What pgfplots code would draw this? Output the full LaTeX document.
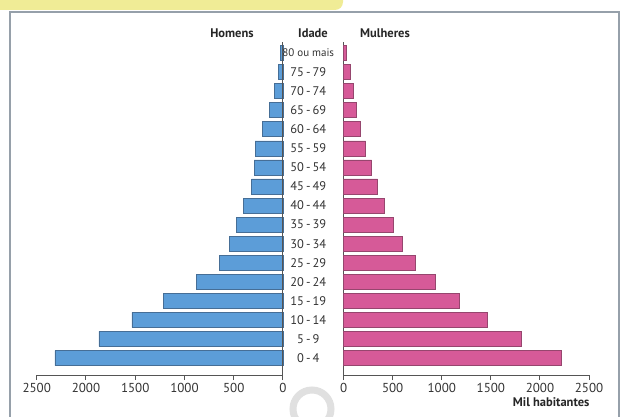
\documentclass[border=0pt]{standalone}
\usepackage{fontspec}
\setmainfont{PT Sans}
\usepackage{pgfplots}
\pgfplotsset{compat=1.18}
\definecolor{mblue}{RGB}{92,157,216}
\definecolor{mblueE}{RGB}{70,110,150}
\definecolor{fpink}{RGB}{214,90,152}
\definecolor{fpinkE}{RGB}{150,70,110}
\definecolor{axgray}{RGB}{85,85,85}
\definecolor{framegray}{RGB}{150,160,170}
\definecolor{banner}{RGB}{240,236,150}
\pgfplotsset{
  pyr/.style={scale only axis, height=333.6pt, xmin=0, xmax=2500, ymin=-0.9, ymax=16.6,
    xbar, bar width=15pt, axis x line*=bottom, xtick={0,500,...,2500},
    tick align=outside, major tick length=5pt,
    x axis line style={axgray, line width=1pt}, xtick style={axgray, line width=1pt},
    xticklabel style={font=\fontsize{13}{13}\selectfont, text=black!80},
    /pgf/number format/assume math mode=true, /pgf/number format/1000 sep={},
    clip=false}
}
\begin{document}
\begin{tikzpicture}
\path[use as bounding box] (0pt,0pt) rectangle (625pt,417pt);
\fill[white] (0pt,0pt) rectangle (625pt,417pt);
\draw[black!12, line width=7pt] (312pt,8pt) circle[radius=19pt];
\fill[banner, rounded corners=8pt] (-20pt,407pt) rectangle (343pt,440pt);
\draw[framegray, line width=1.2pt] (10pt,-5pt) -- (10pt,405pt) -- (619pt,405pt) -- (619pt,-5pt);
\begin{axis}[pyr, at={(36.7pt,41.8pt)}, anchor=south west, width=246.3pt, x dir=reverse,
  axis y line=none, ytick=\empty]
\addplot[fill=mblue, draw=mblueE, line width=0.6pt] coordinates {
(2315,0) (1868,1) (1533,2) (1215,3) (876,4) (647,5) (545,6) (470,7) (399,8)
(318,9) (294,10) (284,11) (206,12) (139,13) (84,14) (44,15) (23,16)};
\draw[axgray, line width=1pt] (axis cs:0,-0.9) -- (axis cs:0,16.6);
\end{axis}
\begin{axis}[pyr, at={(343.6pt,41.8pt)}, anchor=south west, width=245.4pt,
  axis y line*=left, y axis line style={axgray, line width=1pt},
  ytick={0,...,16}, ytick style={draw=none},
  yticklabels={0\,-\,4, 5\,-\,9, 10\,-\,14, 15\,-\,19, 20\,-\,24, 25\,-\,29, 30\,-\,34, 35\,-\,39,
    40\,-\,44, 45\,-\,49, 50\,-\,54, 55\,-\,59, 60\,-\,64, 65\,-\,69, 70\,-\,74, 75\,-\,79,
    {\fontsize{11}{11}\selectfont 80 ou mais}},
  yticklabel style={anchor=center, xshift=-30.3pt, font=\fontsize{12.5}{12.5}\selectfont, text=black!80}]
\addplot[fill=fpink, draw=fpinkE, line width=0.6pt] coordinates {
(2218,0) (1808,1) (1468,2) (1183,3) (939,4) (732,5) (600,6) (509,7) (417,8)
(346,9) (285,10) (224,11) (173,12) (129,13) (99,14) (64,15) (27,16)};
\end{axis}
\node[font=\bfseries\fontsize{12.5}{12.5}\selectfont, text=black!85] at (232pt,384pt) {Homens};
\node[font=\bfseries\fontsize{12.5}{12.5}\selectfont, text=black!85] at (313pt,384pt) {Idade};
\node[font=\bfseries\fontsize{12.5}{12.5}\selectfont, text=black!85] at (385pt,384pt) {Mulheres};
\node[anchor=east, font=\bfseries\fontsize{12.5}{12.5}\selectfont, text=black!85] at (593pt,15pt) {Mil habitantes};
\end{tikzpicture}
\end{document}
